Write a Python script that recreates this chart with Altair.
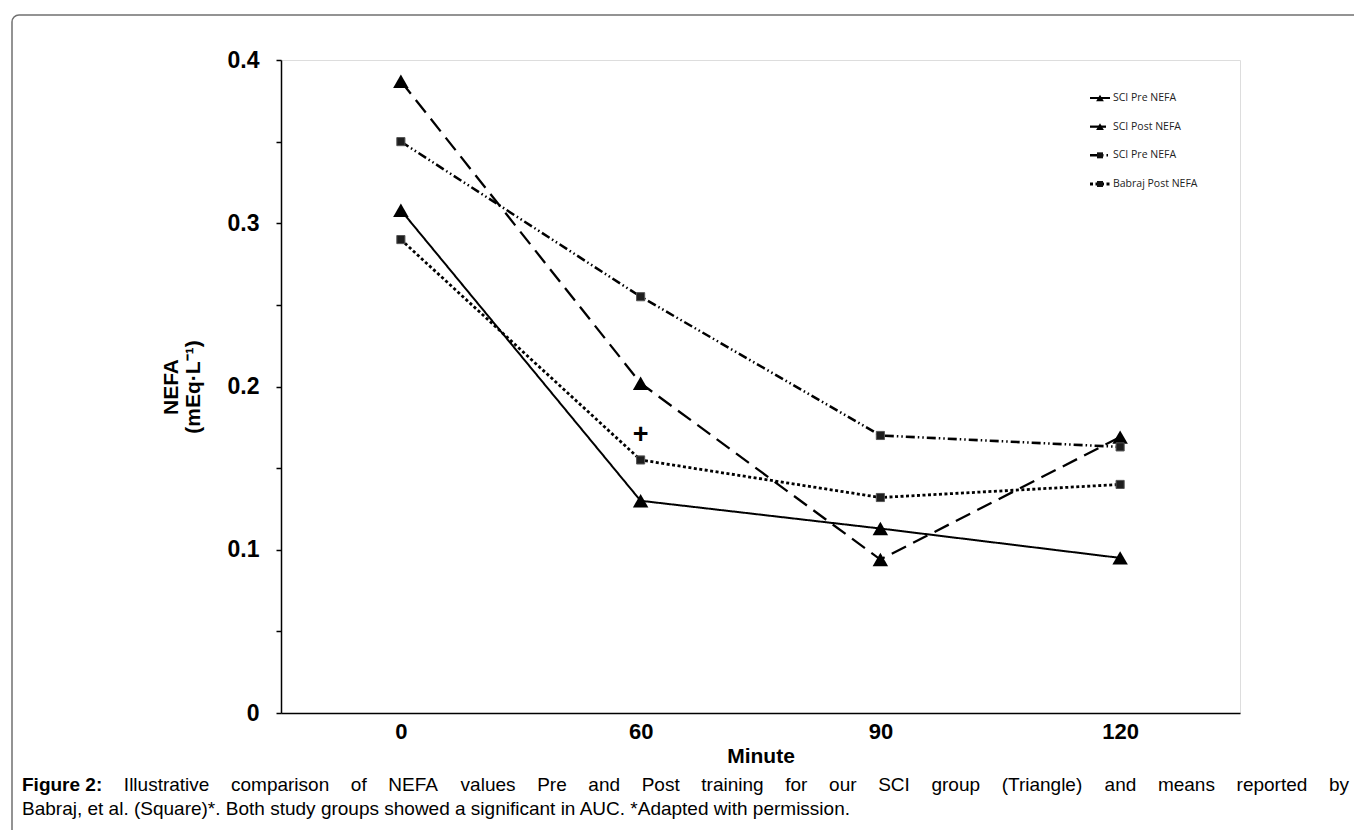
import altair as alt
import pandas as pd

# ---------------- data ----------------
minutes = [0, 60, 90, 120]
series_ids = ["sci_pre", "sci_post", "sq_pre", "sq_post"]
legend_labels = ["SCI Pre NEFA", "SCI Post NEFA", "SCI Pre NEFA", "Babraj Post NEFA"]
sci_pre = [0.308, 0.130, 0.113, 0.095]
sci_post = [0.387, 0.202, 0.094, 0.169]
sq_pre = [0.350, 0.255, 0.170, 0.163]
sq_post = [0.290, 0.155, 0.132, 0.140]
y_ticks = [0, 0.05, 0.1, 0.15, 0.2, 0.25, 0.3, 0.35, 0.4]
plus_minute = [60]
plus_value = [0.170]
caption_bold = ["Figure", "2:"]
caption_line1 = "Illustrative comparison of NEFA values Pre and Post training for our SCI group (Triangle) and means reported by"
caption_line2 = "Babraj, et al. (Square)*. Both study groups showed a significant in AUC. *Adapted with permission."

values = {"sci_pre": sci_pre, "sci_post": sci_post, "sq_pre": sq_pre, "sq_post": sq_post}
rows = []
for sid in series_ids:
    for m, v in zip(minutes, values[sid]):
        rows.append({"id": sid, "minute": str(m), "value": v,
                     "kind": "tri" if sid.startswith("sci") else "sq"})
df = pd.DataFrame(rows)
legend_df = pd.DataFrame({"id": series_ids, "label": legend_labels,
                          "kind": ["tri", "tri", "sq", "sq"]})
plus_df = pd.DataFrame({"minute": [str(m) for m in plus_minute], "value": plus_value, "t": ["+"]})
one = pd.DataFrame({"a": [0]})

FONT = "Liberation Sans"
minute_labels = [str(m) for m in minutes]

# --- justified caption first line (Arial/Liberation metrics, 1/1000 em) ---
REG = {' ': 278, '(': 333, ')': 333, '*': 389, '.': 278, ',': 278, ':': 278,
       'A': 667, 'B': 667, 'C': 722, 'E': 667, 'F': 611, 'I': 278, 'N': 722, 'P': 667,
       'S': 667, 'T': 611, 'U': 722,
       'a': 556, 'b': 556, 'c': 500, 'd': 556, 'e': 556, 'f': 278, 'g': 556, 'h': 556,
       'i': 222, 'j': 222, 'k': 500, 'l': 222, 'm': 833, 'n': 556, 'o': 556, 'p': 556,
       'q': 556, 'r': 333, 's': 500, 't': 278, 'u': 556, 'v': 500, 'w': 722, 'x': 500, 'y': 500}
BOLD = {'F': 611, 'i': 278, 'g': 611, 'u': 611, 'r': 389, 'e': 556, '2': 556, ':': 333, ' ': 278}
CAP_SIZE = 19
CAP_LEFT = -259          # relative to plot origin
CAP_RIGHT = 1349 - 281


def wdt(word, table):
    return sum(table.get(c, 556) for c in word) * CAP_SIZE / 1000.0


words = [(w, True) for w in caption_bold] + [(w, False) for w in caption_line1.split(" ")]
widths = [wdt(w, BOLD if b else REG) for w, b in words]
xs = [CAP_LEFT, CAP_LEFT + widths[0] + wdt(" ", BOLD)]
rest_start = xs[1] + widths[1]
rest_gap = (CAP_RIGHT - rest_start - sum(widths[2:])) / (len(words) - 2)
cur = rest_start + rest_gap
for wd in widths[2:]:
    xs.append(cur)
    cur += wd + rest_gap
cap_df = pd.DataFrame({"word": [w for w, _ in words], "bold": [b for _, b in words], "px": xs})

# ---------------- scales ----------------
x_scale = alt.Scale(type="point", domain=minute_labels, padding=0.5)
y_scale = alt.Scale(domain=[0, 0.4], nice=False, zero=True)
dash_scale = alt.Scale(domain=series_ids, range=[[1, 0], [16, 8], [9, 3, 1.5, 3, 1.5, 3], [3, 2.5]])
width_scale = alt.Scale(domain=series_ids, range=[2, 2.8, 1.3, 1.1])

x_enc = alt.X("minute:O", scale=x_scale, sort=minute_labels,
              axis=alt.Axis(ticks=False, grid=False, labelFont=FONT, labelFontSize=22, labelAngle=0,
                            labelFontWeight="bold", labelColor="black", labelPadding=8,
                            domainColor="black", domainWidth=1.5,
                            title="Minute", titleFont=FONT, titleFontSize=21, titleFontWeight="bold",
                            titleColor="black", titlePadding=3))
y_enc = alt.Y("value:Q", scale=y_scale,
              axis=alt.Axis(values=y_ticks, grid=False,
                            labelExpr="datum.value == 0 ? '0' : (round(datum.value*100) % 10 == 0 ? format(datum.value, '.1f') : '')",
                            labelFont=FONT, labelFontSize=23, labelFontWeight="bold", labelColor="black",
                            labelPadding=17, tickSize=5, tickWidth=1.5, tickColor="black",
                            domainColor="black", domainWidth=1.5,
                            title=["NEFA", "(mEq·L⁻¹)"], titleFont=FONT, titleFontSize=21,
                            titleFontWeight="bold", titleColor="black", titlePadding=24, titleLineHeight=22))

lines = alt.Chart(df).mark_line(color="black").encode(
    x=x_enc, y=y_enc,
    detail="id:N",
    strokeDash=alt.StrokeDash("id:N", scale=dash_scale, legend=None),
    strokeWidth=alt.StrokeWidth("id:N", scale=width_scale, legend=None),
)
tri_pts = alt.Chart(df).transform_filter("datum.kind == 'tri'").mark_point(
    shape="triangle-up", size=240, filled=True, opacity=1, color="black").encode(
    x=alt.X("minute:O", sort=minute_labels), y="value:Q")
sq_pts = alt.Chart(df).transform_filter("datum.kind == 'sq'").mark_point(
    shape="square", size=66, filled=True, opacity=1, color="#1e1e1e", stroke="#555",
    strokeWidth=1).encode(x=alt.X("minute:O", sort=minute_labels), y="value:Q")
plus = alt.Chart(plus_df).mark_text(font=FONT, fontSize=27, fontWeight="bold", color="black",
                                    baseline="middle").encode(
    x=alt.X("minute:O", sort=minute_labels), y="value:Q", text="t:N")

main = alt.layer(lines, tri_pts, sq_pts, plus)

leg_y = alt.Y("id:N", scale=alt.Scale(type="point", domain=series_ids, range=[38, 124], padding=0), axis=None)
leg_rule = alt.Chart(legend_df).mark_rule(color="black").encode(
    x=alt.value(809), x2=alt.value(829), y=leg_y,
    strokeDash=alt.StrokeDash("id:N", scale=dash_scale, legend=None),
    strokeWidth=alt.StrokeWidth("id:N", scale=width_scale, legend=None),
)
leg_tri = alt.Chart(legend_df).transform_filter("datum.kind == 'tri'").mark_point(
    shape="triangle-up", filled=True, opacity=1, color="black", size=60).encode(x=alt.value(819), y=leg_y)
leg_sq = alt.Chart(legend_df).transform_filter("datum.kind == 'sq'").mark_point(
    shape="square", filled=True, opacity=1, color="#111", size=36).encode(x=alt.value(819), y=leg_y)
leg_txt = alt.Chart(legend_df).mark_text(align="left", baseline="middle", font="Open Sans",
                                         fontSize=10.5, color="#222").encode(
    x=alt.value(832), y=leg_y, text="label:N")

border = alt.Chart(one).mark_rect(fillOpacity=0, stroke="#707070", strokeWidth=1.5, cornerRadius=7).encode(
    x=alt.value(-269), x2=alt.value(1100), y=alt.value(-45), y2=alt.value(800))

cap_words_b = alt.Chart(cap_df).transform_filter("datum.bold").mark_text(
    align="left", baseline="middle", font=FONT, fontSize=CAP_SIZE, fontWeight="bold", color="black").encode(
    x=alt.X("px:Q", scale=None), y=alt.value(725), text="word:N")
cap_words_r = alt.Chart(cap_df).transform_filter("!datum.bold").mark_text(
    align="left", baseline="middle", font=FONT, fontSize=CAP_SIZE, color="black").encode(
    x=alt.X("px:Q", scale=None), y=alt.value(725), text="word:N")
cap_2 = alt.Chart(one).mark_text(align="left", baseline="middle", font=FONT, fontSize=CAP_SIZE,
                                 color="black").encode(
    x=alt.value(CAP_LEFT), y=alt.value(749), text=alt.value(caption_line2))

extras = alt.layer(border, leg_rule, leg_tri, leg_sq, leg_txt, cap_words_b, cap_words_r, cap_2)

chart = alt.layer(main, extras).resolve_scale(x="independent", y="independent").properties(
    width=959, height=653,
    autosize=alt.AutoSizeParams(type="none"),
    padding={"left": 273, "top": 52, "right": 114, "bottom": 117},
).configure_view(stroke=None).configure(background="white")

chart.save("out.html", embed_options={"renderer": "svg", "actions": False})
